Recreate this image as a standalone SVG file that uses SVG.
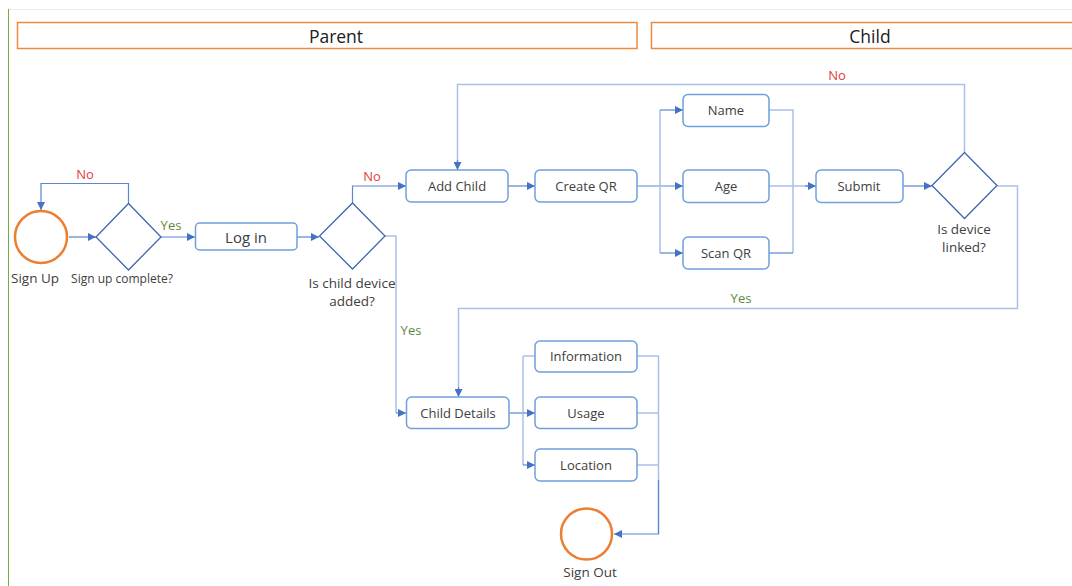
<svg xmlns="http://www.w3.org/2000/svg" width="1072" height="586" viewBox="0 0 1072 586">
  <style>
    text { font-family: "Open Sans", "Noto Sans", "Liberation Sans", sans-serif; fill: #404040; text-anchor: middle; dominant-baseline: central; }
    .lane { fill: #ffffff; stroke: #F08A3C; stroke-width: 1.5; }
    .lane-title { font-size: 17.5px; fill: #202020; }
    .box { fill: #ffffff; stroke: #6FA0DC; stroke-width: 1.5; }
    .box-label { font-size: 13px; }
    .decision { fill: #ffffff; stroke: #3F66B0; stroke-width: 1.3; }
    .terminal { fill: #ffffff; stroke: #ED7D31; stroke-width: 2.5; }
    .caption { font-size: 13.5px; }
    .small { font-size: 12px; }
    .edge { fill: none; stroke: #5B86D0; stroke-width: 1.2; }
    .edge-light { fill: none; stroke: #A9C1E8; stroke-width: 1.5; }
    .no { fill: #E0403A; font-size: 13px; }
    .yes { fill: #5E8A3C; font-size: 13px; }
  </style>
  <defs>
    <marker id="arrow" viewBox="0 0 8 8" refX="8" refY="4" markerWidth="8" markerHeight="8" markerUnits="userSpaceOnUse" orient="auto">
      <path d="M0,0 L8,4 L0,8 z" fill="#4472C4"/>
    </marker>
  </defs>

  <rect width="1072" height="586" fill="#ffffff"/>
  <!-- page frame -->
  <line x1="8" y1="9.5" x2="1072" y2="9.5" stroke="#ececec" stroke-width="1"/>
  <line x1="8.5" y1="9" x2="8.5" y2="586" stroke="#70AD47" stroke-width="1"/>

  <!-- swimlane headers -->
  <g id="lane-parent">
    <rect class="lane" x="17.5" y="22.5" width="619.5" height="26"/>
    <text class="lane-title" x="336" y="36">Parent</text>
  </g>
  <g id="lane-child">
    <rect class="lane" x="651.5" y="22.5" width="430" height="26"/>
    <text class="lane-title" x="870" y="36">Child</text>
  </g>

  <!-- connectors -->
  <g id="connectors">
    <path class="edge" d="M69,237 H96" marker-end="url(#arrow)"/>
    <path class="edge" d="M128.5,203 V183.5 H41 V210" marker-end="url(#arrow)"/>
    <path class="edge" d="M161,237 H195" marker-end="url(#arrow)"/>
    <path class="edge" d="M297,237 H319" marker-end="url(#arrow)"/>
    <path class="edge" d="M352.5,203 V186 H406" marker-end="url(#arrow)"/>
    <path class="edge-light" d="M385,236 H396 V413"/>
    <path class="edge" d="M396,413 H406" marker-end="url(#arrow)"/>
    <path class="edge" d="M508,186 H535" marker-end="url(#arrow)"/>
    <path class="edge" d="M637,186 H683" marker-end="url(#arrow)"/>
    <path class="edge-light" d="M660,110 V253"/>
    <path class="edge" d="M660,110 H683" marker-end="url(#arrow)"/>
    <path class="edge" d="M660,253 H683" marker-end="url(#arrow)"/>
    <path class="edge-light" d="M769,110 H793 V253"/>
    <path class="edge" d="M769,253 H793"/>
    <path class="edge-light" d="M769,186 H810"/>
    <path class="edge" d="M805,186 H816" marker-end="url(#arrow)"/>
    <path class="edge" d="M903,186 H932" marker-end="url(#arrow)"/>
    <path class="edge-light" d="M964.5,152 V84.5 H457.5 V165"/>
    <path class="edge" d="M457.5,160 V170" marker-end="url(#arrow)"/>
    <path class="edge-light" d="M997,186 H1017.5 V308.5 H458.5 V392"/>
    <path class="edge" d="M458.5,387 V397" marker-end="url(#arrow)"/>
    <path class="edge" d="M509,413 H523"/>
    <path class="edge-light" d="M523,356 V465 M523,356 H535"/>
    <path class="edge" d="M523,413 H535" marker-end="url(#arrow)"/>
    <path class="edge" d="M523,465 H535" marker-end="url(#arrow)"/>
    <path class="edge-light" d="M637,356 H658.5 V534 M637,413 H658.5 M637,465 H658.5"/>
    <path class="edge" d="M658.5,480 V534 H614" marker-end="url(#arrow)"/>
    <text class="no" x="85" y="174">No</text>
    <text class="yes" x="171" y="225">Yes</text>
    <text class="no" x="372" y="176">No</text>
    <text class="yes" x="411" y="330">Yes</text>
    <text class="no" x="837" y="75">No</text>
    <text class="yes" x="741" y="298">Yes</text>
  </g>

  <!-- nodes -->
  <g id="sign-up">
    <circle class="terminal" cx="41" cy="237" r="26"/>
    <text class="caption" x="35" y="278">Sign Up</text>
  </g>
  <g id="signup-complete">
    <polygon class="decision" points="128.5,203.5 161,237 128.5,270 96,237"/>
    <text class="small" x="122" y="278">Sign up complete?</text>
  </g>
  <g id="log-in">
    <rect class="box" x="195.5" y="223" width="101.5" height="27" rx="4"/>
    <text x="246" y="237" style="font-size:15px">Log in</text>
  </g>
  <g id="child-added">
    <polygon class="decision" points="352.5,203 385,236 352.5,269 319.5,236"/>
    <text class="caption" x="352" y="283">Is child device</text>
    <text class="caption" x="352" y="301">added?</text>
  </g>
  <g id="add-child">
    <rect class="box" x="406" y="170" width="102" height="32" rx="5"/>
    <text class="box-label" x="457" y="186">Add Child</text>
  </g>
  <g id="create-qr">
    <rect class="box" x="535" y="170" width="102" height="32" rx="5"/>
    <text class="box-label" x="586" y="186">Create QR</text>
  </g>
  <g id="name">
    <rect class="box" x="683" y="94.5" width="86" height="32" rx="5"/>
    <text class="box-label" x="726" y="110">Name</text>
  </g>
  <g id="age">
    <rect class="box" x="683" y="170" width="86" height="32.5" rx="5"/>
    <text class="box-label" x="726" y="186">Age</text>
  </g>
  <g id="scan-qr">
    <rect class="box" x="683" y="237" width="86" height="32" rx="5"/>
    <text class="box-label" x="726" y="253">Scan QR</text>
  </g>
  <g id="submit">
    <rect class="box" x="816" y="170" width="87" height="32.5" rx="5"/>
    <text class="box-label" x="859" y="186">Submit</text>
  </g>
  <g id="device-linked">
    <polygon class="decision" points="964.5,152.5 997,185.5 964.5,218.5 932,185.5"/>
    <text class="caption" x="964" y="229">Is device</text>
    <text class="caption" x="964" y="247">linked?</text>
  </g>
  <g id="child-details">
    <rect class="box" x="406.5" y="397" width="102.5" height="31.5" rx="5"/>
    <text class="box-label" x="458" y="412.5">Child Details</text>
  </g>
  <g id="information">
    <rect class="box" x="535" y="341" width="102" height="31" rx="5"/>
    <text class="box-label" x="586" y="356">Information</text>
  </g>
  <g id="usage">
    <rect class="box" x="535" y="397" width="102" height="31.5" rx="5"/>
    <text class="box-label" x="586" y="413">Usage</text>
  </g>
  <g id="location">
    <rect class="box" x="535" y="449" width="102" height="32" rx="5"/>
    <text class="box-label" x="586" y="465">Location</text>
  </g>
  <g id="sign-out">
    <circle class="terminal" cx="586.5" cy="534" r="25.5"/>
    <text class="caption" x="590" y="572">Sign Out</text>
  </g>
</svg>
